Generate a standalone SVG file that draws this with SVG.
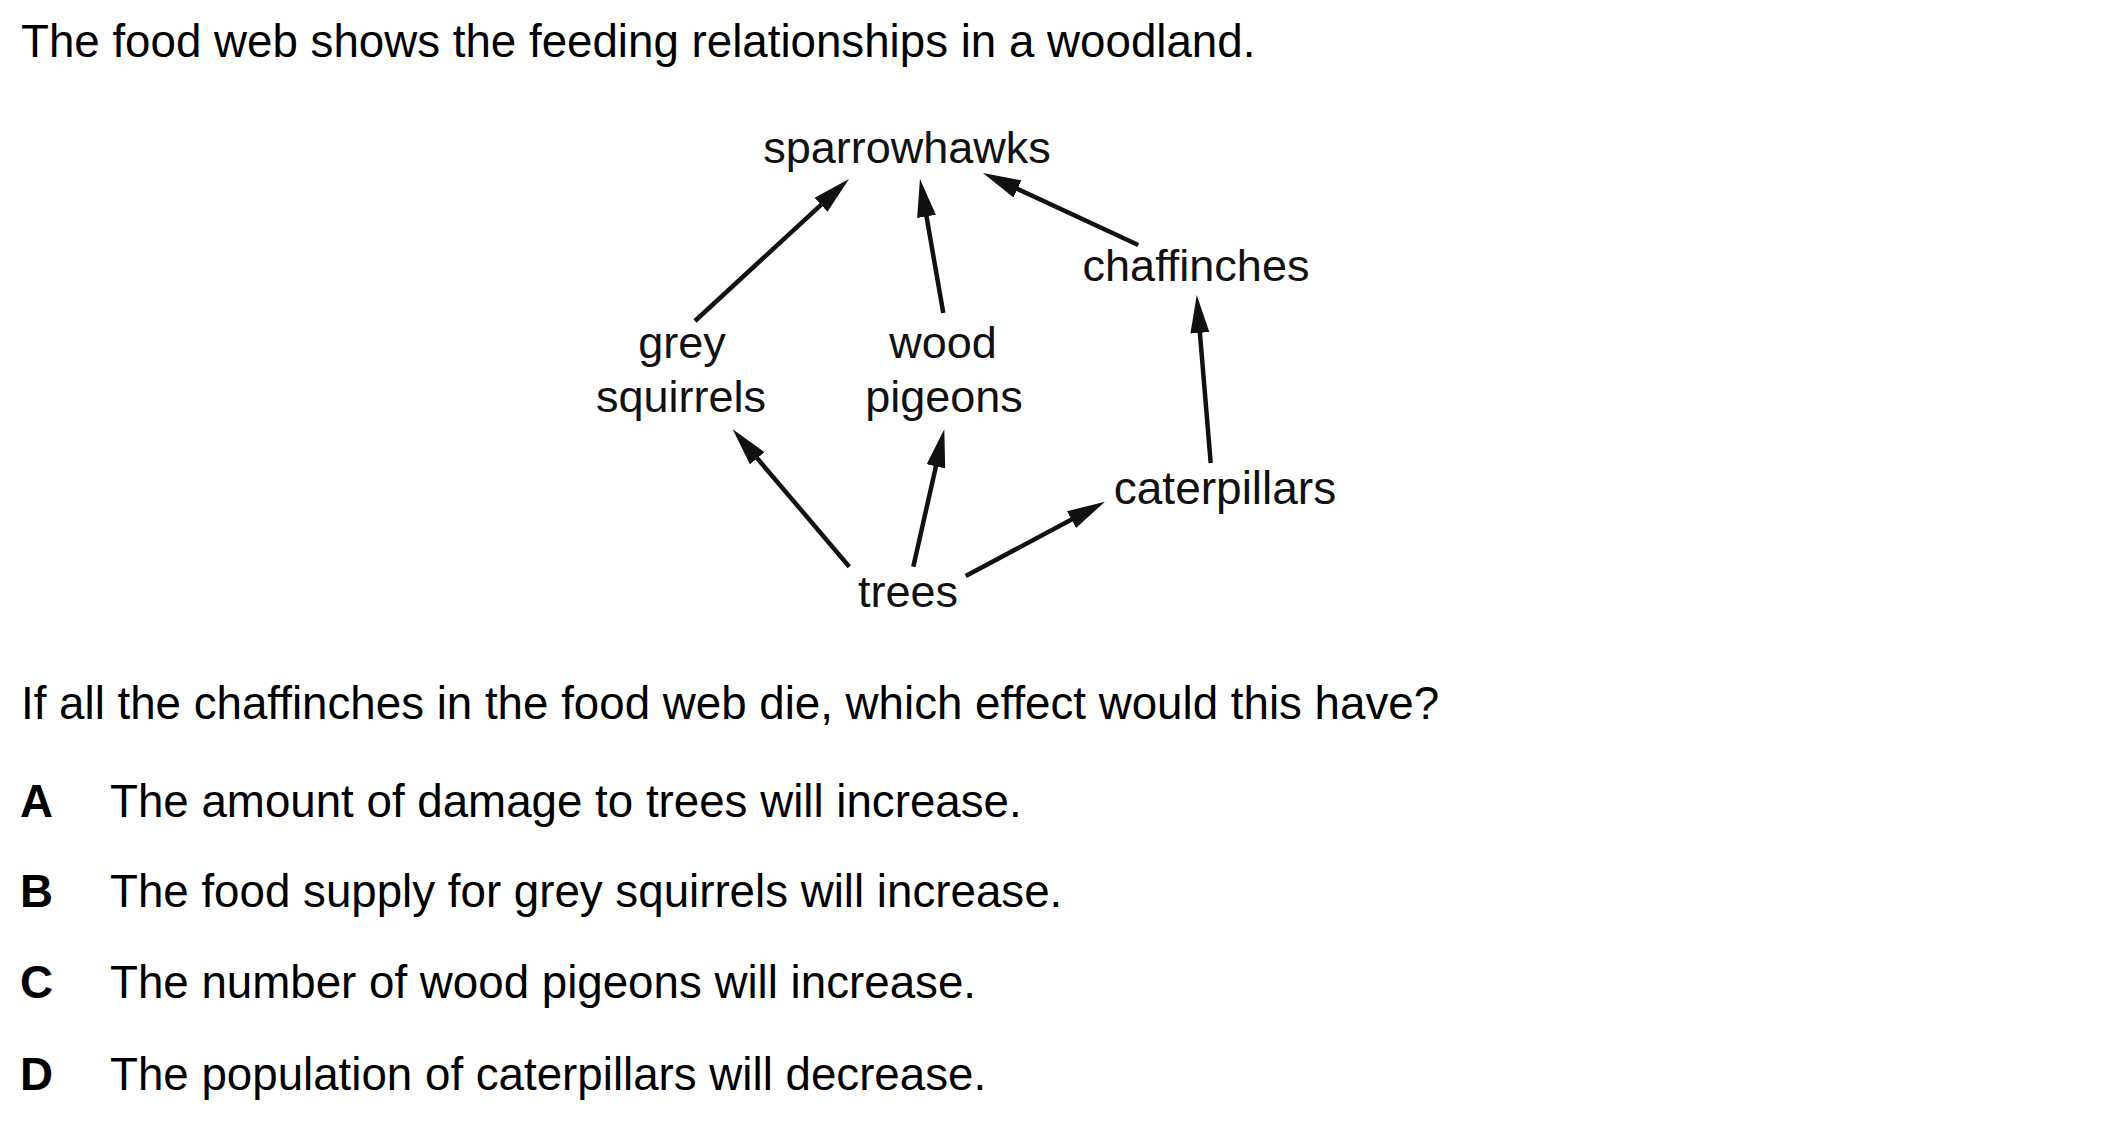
<svg xmlns="http://www.w3.org/2000/svg" width="2101" height="1121" viewBox="0 0 2101 1121">
<style>
.t{font-family:"Liberation Sans",Arial,sans-serif;font-size:45.7px;fill:#000}
.b{font-weight:bold}
.n{font-family:"Liberation Sans",Arial,sans-serif;font-size:45px;fill:#111;text-anchor:middle}
.e{stroke:#111;stroke-width:4.5;fill:none;marker-end:url(#ah)}
</style>
<defs>
<marker id="ah" markerUnits="userSpaceOnUse" markerWidth="42" markerHeight="22" viewBox="-18 -11 42 22" refX="0" refY="0" orient="auto">
<path d="M20,0 L-18,-9.5 L-18,9.5 z" fill="#111"/>
</marker>
</defs>
<rect width="2101" height="1121" fill="#fff"/>
<text class="t" x="21" y="57">The food web shows the feeding relationships in a woodland.</text>
<g id="sparrowhawks"><text class="n" x="907" y="163">sparrowhawks</text></g>
<g id="grey-squirrels"><text class="n" x="682" y="358">grey</text><text class="n" x="681" y="412">squirrels</text></g>
<g id="wood-pigeons"><text class="n" x="943" y="358">wood</text><text class="n" x="944" y="412">pigeons</text></g>
<g id="chaffinches"><text class="n" x="1196" y="281">chaffinches</text></g>
<g id="caterpillars"><text class="n" x="1225" y="504" style="font-size:46px">caterpillars</text></g>
<g id="trees"><text class="n" x="908" y="607">trees</text></g>
<g id="connectors">
<line class="e" x1="695" y1="321" x2="834.3" y2="192.6"/>
<line class="e" x1="943.3" y1="313" x2="923.4" y2="198.7"/>
<line class="e" x1="1138.3" y1="245" x2="1001.1" y2="181.4"/>
<line class="e" x1="1210.7" y1="463" x2="1198.4" y2="314.9"/>
<line class="e" x1="849.3" y1="566.7" x2="745.6" y2="444.6"/>
<line class="e" x1="913.3" y1="566.7" x2="939.9" y2="448.8"/>
<line class="e" x1="965.7" y1="576" x2="1087.4" y2="511.1"/>
</g>
<text class="t" x="21" y="719">If all the chaffinches in the food web die, which effect would this have?</text>
<text class="t b" x="20" y="817">A</text><text class="t" x="110" y="817">The amount of damage to trees will increase.</text>
<text class="t b" x="20" y="907">B</text><text class="t" x="110" y="907">The food supply for grey squirrels will increase.</text>
<text class="t b" x="20" y="998">C</text><text class="t" x="110" y="998">The number of wood pigeons will increase.</text>
<text class="t b" x="20" y="1090">D</text><text class="t" x="110" y="1090">The population of caterpillars will decrease.</text>
</svg>
